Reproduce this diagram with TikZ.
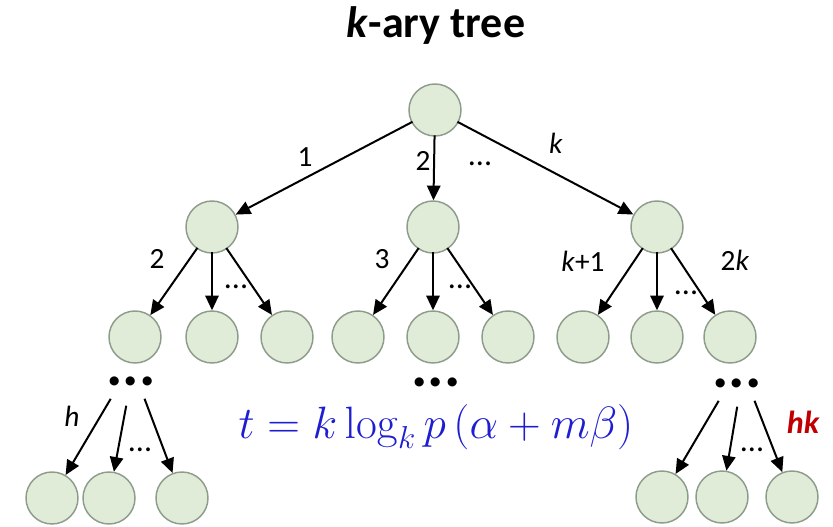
\RequirePackage{fix-cm}
\documentclass[tikz,border=0pt]{standalone}
\usepackage[no-math]{fontspec}
\setmainfont{Carlito}
\usetikzlibrary{arrows.meta}
\definecolor{nodefill}{HTML}{E1ECD8}
\definecolor{nodedraw}{HTML}{8E9C8C}
\definecolor{formblue}{HTML}{1E1ED0}
\definecolor{hkred}{HTML}{C00000}
\tikzset{
  tnode/.style={circle,fill=nodefill,draw=nodedraw,line width=1.1pt,minimum size=39pt,inner sep=0pt},
  edge/.style={line width=1.5pt,-{Triangle[length=11pt,width=10pt]},shorten <=-1pt,shorten >=0pt},
  lbl/.style={font=\fontsize{22}{22}\selectfont,inner sep=0pt},
  bigdots/.style={font=\fontsize{46}{46}\selectfont\bfseries,inner sep=0pt},
  smalldots/.style={font=\fontsize{24}{24}\selectfont,inner sep=0pt}
}
\begin{document}
\begin{tikzpicture}[x=0.75pt,y=-0.75pt]
\useasboundingbox (0,0) rectangle (833,526);
\node[font=\fontsize{33}{33}\selectfont\bfseries,inner sep=0pt] (title) at (436,26) {\textit{k}-ary tree};
% nodes
\node[tnode] (r) at (435,110) {};
\node[tnode] (a) at (212,227) {};
\node[tnode] (b) at (433,227) {};
\node[tnode] (c) at (657,227) {};
\node[tnode] (a1) at (135,337) {};
\node[tnode] (a2) at (212,337) {};
\node[tnode] (a3) at (287,337) {};
\node[tnode] (b1) at (358,337) {};
\node[tnode] (b2) at (433,337) {};
\node[tnode] (b3) at (508,337) {};
\node[tnode] (c1) at (583,337) {};
\node[tnode] (c2) at (657,337) {};
\node[tnode] (c3) at (730,337) {};
\node[tnode] (d1) at (52,498) {};
\node[tnode] (d2) at (109,498) {};
\node[tnode] (d3) at (182,498) {};
\node[tnode] (e1) at (662,497) {};
\node[tnode] (e2) at (722,497) {};
\node[tnode] (e3) at (792,497) {};
% edges
\draw[edge] (r) -- (a);
\draw[edge] (r) -- (b);
\draw[edge] (r) -- (c);
\foreach \p in {a,b,c}{
  \draw[edge] (\p) -- (\p1);
  \draw[edge] (\p) -- (\p2);
  \draw[edge] (\p) -- (\p3);
}
% bottom arrows from free coordinates
\coordinate (ls1) at (110,400);
\coordinate (ls2) at (126,407);
\coordinate (ls3) at (145,400);
\coordinate (rs1) at (718,402);
\coordinate (rs2) at (737,408);
\coordinate (rs3) at (755,402);
\draw[edge] (ls1) -- (d1);
\draw[edge] (ls2) -- (d2);
\draw[edge] (ls3) -- (d3);
\draw[edge] (rs1) -- (e1);
\draw[edge] (rs2) -- (e2);
\draw[edge] (rs3) -- (e3);
% big dots
\node[bigdots,anchor=base] (dl) at (131,385) {...};
\node[bigdots,anchor=base] (dm) at (436,386) {...};
\node[bigdots,anchor=base] (dr) at (737,387) {...};
% labels
\node[lbl] (l1) at (305,157) {1};
\node[lbl] (l2) at (423,161) {2};
\node[smalldots,anchor=base] (l3) at (480,165) {...};
\node[lbl] (l4) at (556,143) {\textit{k}};
\node[lbl] (m1) at (157,259) {2};
\node[smalldots,anchor=base] (m2) at (236,288) {...};
\node[lbl] (m3) at (382,259) {3};
\node[smalldots,anchor=base] (m4) at (460,288) {...};
\node[lbl] (m5) at (583,261) {\textit{k}+1};
\node[lbl] (m6) at (735,260) {2\textit{k}};
\node[smalldots,anchor=base] (m7) at (686,294) {...};
\node[lbl] (n1) at (72,416) {\textit{h}};
\node[smalldots,anchor=base] (n2) at (140,451) {...};
\node[smalldots,anchor=base] (n3) at (752,451) {...};
\node[lbl,text=hkred,font=\fontsize{24}{24}\selectfont\bfseries\itshape] (n4) at (803,422) {hk};
\node[text=formblue,inner sep=0pt,anchor=base,font=\fontsize{34}{34}\selectfont] (f) at (436,438) {$t = k\log_k p\,(\alpha + m\beta)$};
\end{tikzpicture}
\end{document}
